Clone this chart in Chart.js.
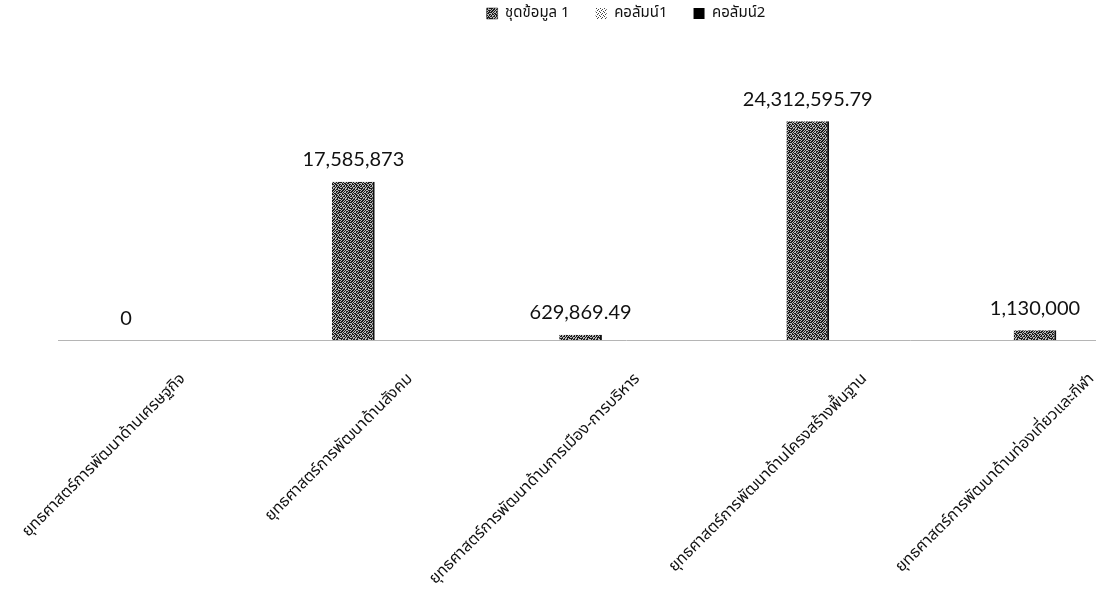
<!DOCTYPE html>
<html>
<head>
<meta charset="utf-8">
<script src="https://cdn.jsdelivr.net/npm/chart.js@4.4.0/dist/chart.umd.min.js"></script>
<style>
    html, body { margin: 0; padding: 0; background: #fff; overflow: hidden; }
    #wrap { width: 1250px; height: 592px; }
</style>
</head>
<body>
<div id="wrap"><canvas id="budgetChart" width="1250" height="592"></canvas></div>
<script>
const categories = [
    'ยุทธศาสตร์การพัฒนาด้านเศรษฐกิจ',
    'ยุทธศาสตร์การพัฒนาด้านสังคม',
    'ยุทธศาสตร์การพัฒนาด้านการเมือง-การบริหาร',
    'ยุทธศาสตร์การพัฒนาด้านโครงสร้างพื้นฐาน',
    'ยุทธศาสตร์การพัฒนาด้านท่องเที่ยวและกีฬา',
];
const seriesNames = ['ชุดข้อมูล 1', 'คอลัมน์1', 'คอลัมน์2'];
const series1 = [0, 17585873, 629869.49, 24312595.79, 1130000];
const column1 = [null, null, null, null, null];
const column2 = [null, null, null, null, null];
const yMax = 30000000;

document.addEventListener('DOMContentLoaded', () => {
    /* =====================
       TEXTURE (scanned look)
    ===================== */
    const makeGrain = (rows, dark, light) => {
        const c = document.createElement('canvas');
        c.width = rows[0].length;
        c.height = rows.length;
        const g = c.getContext('2d');
        g.fillStyle = light;
        g.fillRect(0, 0, c.width, c.height);
        g.fillStyle = dark;
        rows.forEach((row, y) => {
            [...row].forEach((ch, x) => {
                if (ch === '1') g.fillRect(x, y, 1, 1);
            });
        });
        return g.createPattern(c, 'repeat');
    };

    const grainRows = [
        '1011010011',
        '0110101101',
        '1101001011',
        '0010110110',
        '1011011001',
        '0100101101',
        '1101101010',
        '0010010111',
        '1110100101',
        '0101101100',
    ];
    const lightRows = [
        '10001000',
        '00100010',
        '01000100',
        '00010001',
        '10001000',
        '00100010',
        '01000100',
        '00010001',
    ];

    const ctx = document.getElementById('budgetChart').getContext('2d');
    const barFill = makeGrain(grainRows, '#1c1c1c', '#b8b8b8');
    const lightFill = makeGrain(lightRows, '#444', '#ffffff');

    /* =====================
       VALUE LABELS
    ===================== */
    const valueLabels = {
        id: 'valueLabels',
        afterDatasetsDraw(chart) {
            const meta = chart.getDatasetMeta(0);
            const c = chart.ctx;
            c.save();
            c.font = '20px Lato, "Open Sans", sans-serif';
            c.fillStyle = '#111';
            c.textAlign = 'center';
            c.textBaseline = 'bottom';
            meta.data.forEach((bar, i) => {
                const v = series1[i];
                if (v === null) return;
                c.fillText(v.toLocaleString('en-US', { maximumFractionDigits: 2 }), bar.x, bar.y - 12);
            });
            c.restore();
        },
    };

    // legend sits high, leave room under it
    const legendGap = {
        id: 'legendGap',
        beforeLayout(chart) {
            const lg = chart.legend;
            if (!lg || lg._gapPatched) return;
            const fit = lg.fit;
            lg.fit = function () {
                fit.call(this);
                this.height = 90;
            };
            lg._gapPatched = true;
        },
    };

    const thaiFont = 'Tahoma, "Noto Sans Thai", "Noto Sans", sans-serif';

    new Chart(ctx, {
        type: 'bar',
        data: {
            labels: categories,
            datasets: [
                {
                    label: seriesNames[0],
                    data: series1,
                    backgroundColor: barFill,
                    borderColor: '#111',
                    borderWidth: { left: 0, top: 0, bottom: 0, right: 2 },
                    borderSkipped: false,
                },
                {
                    label: seriesNames[1],
                    data: column1,
                    backgroundColor: lightFill,
                },
                {
                    label: seriesNames[2],
                    data: column2,
                    backgroundColor: '#000',
                },
            ],
        },
        plugins: [valueLabels, legendGap],
        options: {
            responsive: false,
            animation: false,
            devicePixelRatio: 1,
            layout: { padding: { top: -20, left: 58, right: 56, bottom: -19 } },
            datasets: {
                bar: { categoryPercentage: 0.6, barPercentage: 0.94 },
            },
            plugins: {
                legend: {
                    position: 'top',
                    labels: {
                        boxWidth: 11,
                        boxHeight: 11,
                        padding: 26,
                        color: '#111',
                        font: { family: thaiFont, size: 15 },
                    },
                },
                tooltip: { enabled: false },
            },
            scales: {
                x: {
                    grid: { display: false },
                    border: { display: true, color: '#b5b5b5', dash: [2, 4] },
                    afterFit: (s) => { s.paddingLeft = 0; },
                    ticks: {
                        color: '#111',
                        padding: 22,
                        labelOffset: 12,
                        minRotation: 45,
                        maxRotation: 45,
                        font: { family: thaiFont, size: 16 },
                    },
                },
                y: {
                    display: false,
                    min: 0,
                    max: yMax,
                },
            },
        },
    });
});
</script>
</body>
</html>
